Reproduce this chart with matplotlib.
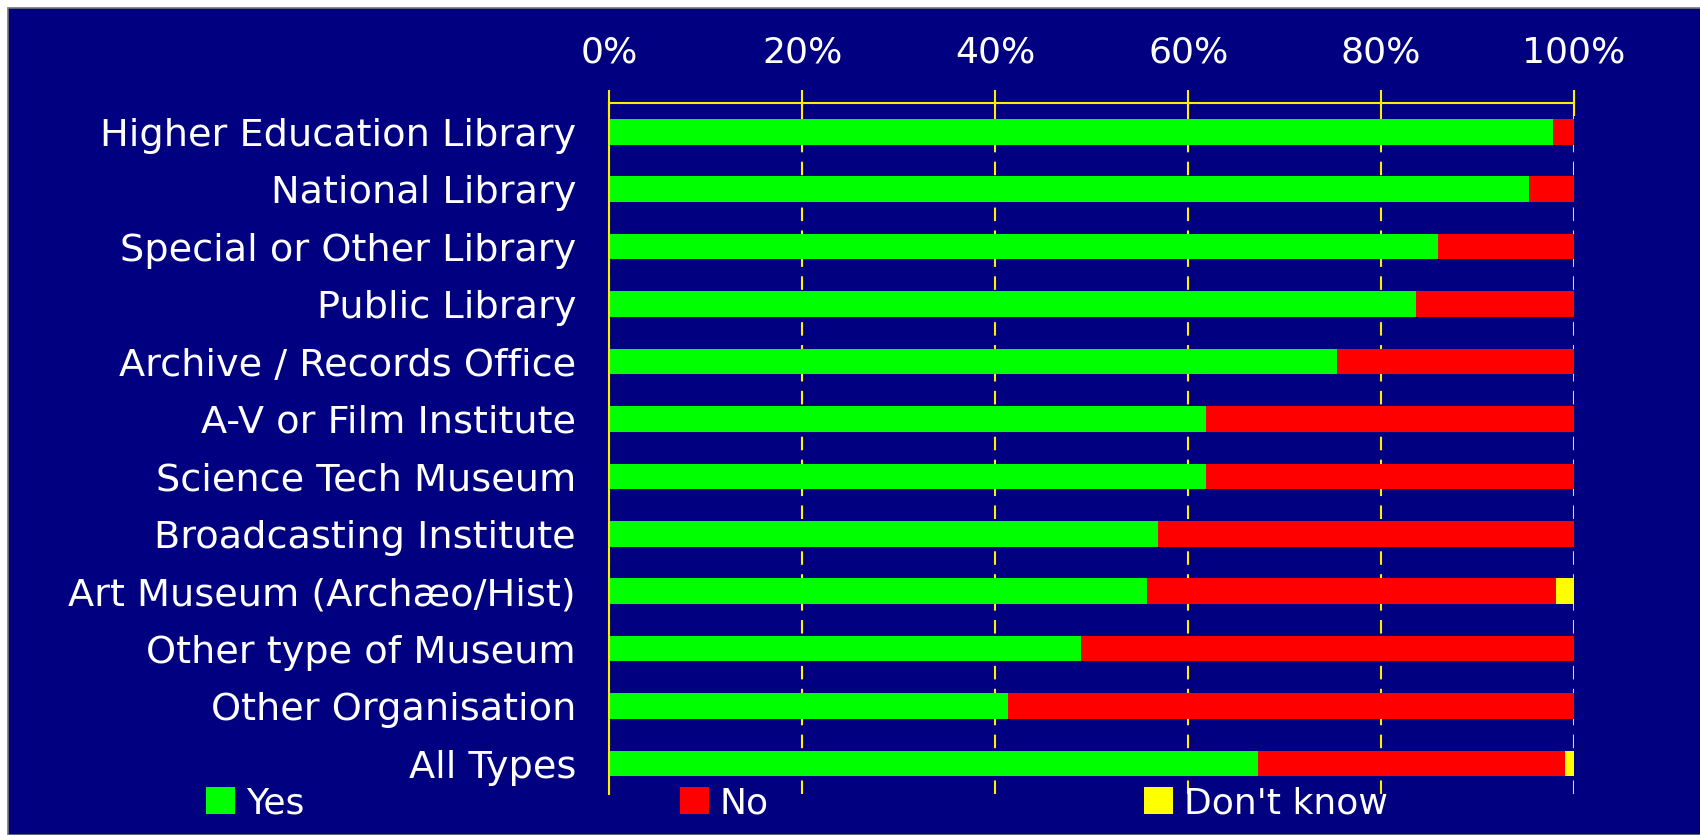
"""Stacked horizontal bar chart: Yes / No / Don't know share by organisation type."""
import matplotlib
matplotlib.use("Agg")
import matplotlib.pyplot as plt
from matplotlib.patches import Rectangle

NAVY = "#000080"
AXIS_YELLOW = "#FFEE00"

CATEGORIES = [
    "Higher Education Library",
    "National Library",
    "Special or Other Library",
    "Public Library",
    "Archive / Records Office",
    "A-V or Film Institute",
    "Science Tech Museum",
    "Broadcasting Institute",
    "Art Museum (Archæo/Hist)",
    "Other type of Museum",
    "Other Organisation",
    "All Types",
]
YES = [97.8, 95.3, 85.9, 83.6, 75.4, 61.8, 61.8, 56.9, 55.7, 48.9, 41.3, 67.2]
NO = [2.2, 4.7, 14.1, 16.4, 24.6, 38.2, 38.2, 43.1, 42.4, 51.1, 58.7, 31.9]
DONT_KNOW = [0, 0, 0, 0, 0, 0, 0, 0, 1.9, 0, 0, 0.9]

SERIES = [("Yes", YES, "#00FF00"), ("No", NO, "#FF0000"), ("Don't know", DONT_KNOW, "#FFFF00")]
XTICKS = [0, 20, 40, 60, 80, 100]


def main():
    fig = plt.figure(figsize=(17, 8.35), dpi=100, facecolor="white")
    # navy panel with a thin grey rim at top/left, like the source screenshot
    fig.patches.append(Rectangle((8 / 1700, 0), 1.0, 1 - 8 / 835, transform=fig.transFigure,
                                 facecolor=NAVY, edgecolor="#777777", linewidth=1.2, zorder=-5))

    ax = fig.add_axes([0.3585, 0.0491, 0.5674, 0.8275])
    ax.set_facecolor(NAVY)

    y = list(range(len(CATEGORIES)))
    left = [0.0] * len(CATEGORIES)
    handles = []
    for name, vals, colour in SERIES:
        bars = ax.barh(y, vals, left=left, height=0.445, color=colour, label=name, zorder=2)
        handles.append(bars)
        left = [a + b for a, b in zip(left, vals)]

    ax.set_xlim(0, 100)
    ax.set_ylim(11.53, -0.5)
    ax.set_xticks(XTICKS)
    ax.set_xticklabels([f"{t}%" for t in XTICKS])
    ax.set_yticks(y)
    ax.set_yticklabels(CATEGORIES)

    ax.xaxis.tick_top()
    ax.tick_params(axis="x", direction="inout", length=19, width=1.5, color=AXIS_YELLOW,
                   labelcolor="white", labelsize=26, pad=14.5)
    ax.tick_params(axis="y", length=0, labelcolor="white", labelsize=27.5, pad=24)

    for side in ("bottom", "right"):
        ax.spines[side].set_visible(False)
    for side in ("top", "left"):
        ax.spines[side].set_color(AXIS_YELLOW)
        ax.spines[side].set_linewidth(1.5)

    ax.grid(axis="x", color=AXIS_YELLOW, linestyle=(0, (6.5, 4.5)), linewidth=1.5, zorder=1)
    ax.grid(axis="y", visible=False)
    ax.set_axisbelow(True)

    fig.legend(handles=handles, loc="center left", bbox_to_anchor=(206 / 1700, 1 - 803 / 835),
               ncols=3, frameon=False, fontsize=26, labelcolor="white",
               handlelength=0.8, handleheight=0.8, handletextpad=0.3,
               columnspacing=10.4, borderpad=0, borderaxespad=0)

    fig.savefig("out.png", dpi=100, facecolor=fig.get_facecolor())


if __name__ == "__main__":
    main()
